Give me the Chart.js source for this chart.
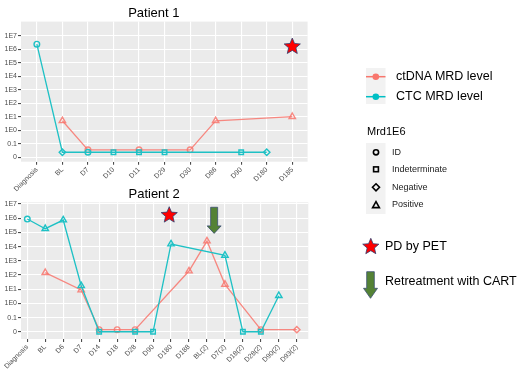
<!DOCTYPE html>
<html>
<head>
<meta charset="utf-8">
<title>MRD levels</title>
<script src="https://cdn.jsdelivr.net/npm/chart.js@4.4.1/dist/chart.umd.min.js"></script>
<style>
  body { margin: 0; background: #fff; font-family: 'Liberation Sans', Arial, sans-serif; }
  #page { position: relative; width: 520px; height: 388px; overflow: hidden; }
  canvas { position: absolute; }
  #chart1 { left: 0; top: 0; }
  #chart2 { left: 0; top: 183px; }
  #keys { left: 340px; top: 0; }
  .lbl { position: absolute; white-space: nowrap; color: #000; }
  .big { font-size: 12.5px; line-height: 15px; }
  .mid { font-size: 11px; line-height: 13px; }
  .small { font-size: 9px; line-height: 11px; color: #222; }
</style>
</head>
<body>
<div id="page">
  <canvas id="chart1" width="320" height="196"></canvas>
  <canvas id="chart2" width="320" height="205"></canvas>
  <canvas id="keys" width="180" height="388"></canvas>
  <span class="lbl big" style="left:396px; top:69px;">ctDNA MRD level</span>
  <span class="lbl big" style="left:396px; top:89px;">CTC MRD level</span>
  <span class="lbl mid" style="left:367px; top:125px;">Mrd1E6</span>
  <span class="lbl small" style="left:392px; top:147px;">ID</span>
  <span class="lbl small" style="left:392px; top:164px;">Indeterminate</span>
  <span class="lbl small" style="left:392px; top:182px;">Negative</span>
  <span class="lbl small" style="left:392px; top:199px;">Positive</span>
  <span class="lbl big" style="left:385px; top:239px;">PD by PET</span>
  <span class="lbl big" style="left:385px; top:274px;">Retreatment with CART</span>
</div>
<script>
// y axis is in tick steps: 0 = "0", 1 = "0.1", 2 = "1E0" ... 9 = "1E7"
const yTickLabels = ['0', '0.1', '1E0', '1E1', '1E2', '1E3', '1E4', '1E5', '1E6', '1E7'];

// Patient 1
const p1Days = ['Diagnosis', 'BL', 'D7', 'D10', 'D11', 'D29', 'D30', 'D86', 'D90', 'D180', 'D185'];
const p1Ctdna = [null, 2.7, 0.55, null, 0.55, null, 0.55, 2.7, null, null, 3.0];
const p1CtdnaMrd = [null, 'Positive', 'ID', null, 'ID', null, 'ID', 'Positive', null, null, 'Positive'];
const p1Ctc = [8.37, 0.37, 0.37, 0.37, 0.37, 0.37, null, null, 0.37, 0.37, null];
const p1CtcMrd = ['ID', 'Negative', 'ID', 'Indeterminate', 'Indeterminate', 'Indeterminate', null, null, 'Indeterminate', 'Negative', null];

// Patient 2
const p2Days = ['Diagnosis', 'BL', 'D6', 'D7', 'D14', 'D18', 'D28', 'D90', 'D180', 'D188', 'BL(2)', 'D7(2)', 'D18(2)', 'D28(2)', 'D90(2)', 'D93(2)'];
const p2Ctdna = [null, 4.16, null, 2.94, 0.15, 0.15, 0.15, null, null, 4.28, 6.39, 3.34, null, 0.15, null, 0.15];
const p2CtdnaMrd = [null, 'Positive', null, 'Positive', 'ID', 'ID', 'ID', null, null, 'Positive', 'Positive', 'Positive', null, 'ID', null, 'Negative'];
const p2Ctc = [7.94, 7.26, 7.87, 3.24, 0, null, 0, 0, 6.18, null, null, 5.38, 0, 0, 2.54, null];
const p2CtcMrd = ['ID', 'Positive', 'Positive', 'Positive', 'Indeterminate', null, 'Indeterminate', 'Indeterminate', 'Positive', null, null, 'Positive', 'Indeterminate', 'Indeterminate', 'Positive', null];

// PD by PET stars and CART arrow: [day index, axis value]
const p1Stars = [[10, 8.19]];
const p2Stars = [[7.9, 8.21]];
const p2Arrows = [[10.4, 8.77, 6.93]];

const red = 'rgba(248, 118, 109, 0.85)';
const cyan = '#1EC1C5';
const shapeStyle = { ID: 'circle', Indeterminate: 'rect', Negative: 'rectRot', Positive: 'triangle' };
const shapeRadius = { ID: 2.8, Indeterminate: 3.2, Negative: 3.2, Positive: 3.7 };

Chart.defaults.font.family = "'Liberation Sans', Arial, sans-serif";

function starPath(ctx, cx, cy, R, r) {
    ctx.beginPath();
    for (let i = 0; i < 10; i++) {
        const rad = i % 2 === 0 ? R : r;
        const a = -Math.PI / 2 + i * Math.PI / 5;
        const px = cx + Math.cos(a) * rad;
        const py = cy + Math.sin(a) * rad;
        if (i === 0) ctx.moveTo(px, py); else ctx.lineTo(px, py);
    }
    ctx.closePath();
}

function drawStar(ctx, cx, cy, R) {
    ctx.save();
    starPath(ctx, cx, cy, R, R * 0.45);
    ctx.fillStyle = '#FF0000';
    ctx.fill();
    ctx.strokeStyle = '#2F3E6E';
    ctx.lineWidth = 0.8;
    ctx.stroke();
    ctx.restore();
}

function drawArrow(ctx, cx, top, tip, shaftW, headW, headLen) {
    ctx.save();
    ctx.beginPath();
    ctx.moveTo(cx - shaftW / 2, top);
    ctx.lineTo(cx + shaftW / 2, top);
    ctx.lineTo(cx + shaftW / 2, tip - headLen);
    ctx.lineTo(cx + headW / 2, tip - headLen);
    ctx.lineTo(cx, tip);
    ctx.lineTo(cx - headW / 2, tip - headLen);
    ctx.lineTo(cx - shaftW / 2, tip - headLen);
    ctx.closePath();
    ctx.fillStyle = '#548235';
    ctx.fill();
    ctx.strokeStyle = '#3B4F73';
    ctx.lineWidth = 0.8;
    ctx.stroke();
    ctx.restore();
}

// ggplot style grey panel
const panelBg = {
    id: 'panelBg',
    beforeDraw(chart) {
        const a = chart.chartArea;
        const ctx = chart.ctx;
        ctx.save();
        ctx.fillStyle = '#EBEBEB';
        ctx.fillRect(a.left, a.top, a.right - a.left, a.bottom - a.top);
        ctx.restore();
    }
};

// stars / arrows placed on the data scales
const marks = {
    id: 'marks',
    afterDatasetsDraw(chart, args, opts) {
        const x = chart.scales.x, y = chart.scales.y;
        (opts.stars || []).forEach(s => drawStar(chart.ctx, x.getPixelForValue(s[0]), y.getPixelForValue(s[1]), 8.5));
        (opts.arrows || []).forEach(a => drawArrow(chart.ctx, x.getPixelForValue(a[0]), y.getPixelForValue(a[1]), y.getPixelForValue(a[2]), 7, 14, 7.5));
    }
};

function toPoints(values, mrd) {
    return values.map((v, i) => v === null ? null : { x: i, y: v, mrd: mrd[i] }).filter(p => p);
}

function series(label, values, mrd, color, order) {
    return {
        label: label,
        data: toPoints(values, mrd),
        borderColor: color,
        borderWidth: 1.3,
        tension: 0,
        order: order,
        clip: false,
        pointStyle: c => c.raw ? shapeStyle[c.raw.mrd] : 'circle',
        pointRadius: c => c.raw ? shapeRadius[c.raw.mrd] : 3,
        pointBorderColor: color,
        pointBackgroundColor: 'rgba(0,0,0,0)',
        pointBorderWidth: 1.4
    };
}

function makeChart(id, title, days, ctdna, ctdnaMrd, ctc, ctcMrd, cfg) {
    const yTicks = [];
    for (let v = 0; v <= cfg.yMax; v += 0.5) yTicks.push(v);
    return new Chart(document.getElementById(id), {
        type: 'line',
        data: {
            datasets: [
                series('ctDNA MRD level', ctdna, ctdnaMrd, red, 1),
                series('CTC MRD level', ctc, ctcMrd, cyan, 0)
            ]
        },
        options: {
            responsive: false,
            animation: false,
            events: [],
            layout: { padding: { left: 0, right: cfg.padRight, top: 0, bottom: 0 } },
            plugins: {
                legend: { display: false },
                tooltip: { enabled: false },
                title: {
                    display: true,
                    text: title,
                    color: '#000',
                    font: { size: 13, weight: 'normal' },
                    padding: cfg.titlePad
                },
                marks: { stars: cfg.stars, arrows: cfg.arrows }
            },
            scales: {
                x: {
                    type: 'linear',
                    min: cfg.xMin,
                    max: cfg.xMax,
                    border: { display: false },
                    afterBuildTicks: axis => { axis.ticks = days.map((d, i) => ({ value: i })); },
                    afterFit: axis => { axis.height = cfg.xAxisHeight; axis.paddingLeft = 0; axis.paddingRight = 0; },
                    grid: { color: '#FFFFFF', lineWidth: 1.1, tickLength: 3, tickColor: '#4D4D4D' },
                    ticks: {
                        autoSkip: false,
                        minRotation: 45,
                        maxRotation: 45,
                        padding: 1,
                        color: '#4D4D4D',
                        font: { size: 7 },
                        callback: v => days[v]
                    }
                },
                y: {
                    type: 'linear',
                    min: cfg.yMin,
                    max: cfg.yMax,
                    border: { display: false },
                    afterBuildTicks: axis => { axis.ticks = yTicks.map(v => ({ value: v })); },
                    afterFit: axis => { axis.width = 21; axis.paddingTop = 0; axis.paddingBottom = 0; },
                    grid: {
                        color: c => Number.isInteger(c.tick.value) ? '#FFFFFF' : 'rgba(255,255,255,0.7)',
                        lineWidth: c => Number.isInteger(c.tick.value) ? 1.1 : 0.6,
                        tickLength: 3,
                        tickColor: c => Number.isInteger(c.tick.value) ? '#4D4D4D' : 'rgba(0,0,0,0)'
                    },
                    ticks: {
                        padding: 1,
                        color: '#4D4D4D',
                        font: { size: 7 },
                        callback: v => Number.isInteger(v) ? yTickLabels[v] : ''
                    }
                }
            }
        },
        plugins: [panelBg, marks]
    });
}

makeChart('chart1', 'Patient 1', p1Days, p1Ctdna, p1CtdnaMrd, p1Ctc, p1CtcMrd, {
    xMin: -0.62, xMax: 10.6, yMin: -0.33, yMax: 10.04,
    padRight: 12.4, xAxisHeight: 34.3, titlePad: { top: 5.5, bottom: 0.5 },
    stars: p1Stars, arrows: []
});

makeChart('chart2', 'Patient 2', p2Days, p2Ctdna, p2CtdnaMrd, p2Ctc, p2CtcMrd, {
    xMin: -0.35, xMax: 15.64, yMin: -0.51, yMax: 9.12,
    padRight: 11.7, xAxisHeight: 49, titlePad: { top: 3.5, bottom: 0.2 },
    stars: p2Stars, arrows: p2Arrows
});

// right hand legend symbols
function drawKeys() {
    const ctx = document.getElementById('keys').getContext('2d');
    ctx.translate(-340, 0);

    // line keys
    ctx.fillStyle = '#F2F2F2';
    ctx.fillRect(366, 68, 19.5, 36);
    [[76.7, '#F8766D'], [96.7, '#00BFC4']].forEach(k => {
        ctx.strokeStyle = k[1];
        ctx.lineWidth = 1.5;
        ctx.beginPath();
        ctx.moveTo(366, k[0]);
        ctx.lineTo(385.5, k[0]);
        ctx.stroke();
        ctx.fillStyle = k[1];
        ctx.beginPath();
        ctx.arc(375.8, k[0], 3.3, 0, Math.PI * 2);
        ctx.fill();
    });

    // shape keys
    ctx.fillStyle = '#F2F2F2';
    ctx.fillRect(366, 143, 19.5, 71);
    ctx.strokeStyle = '#000';
    ctx.lineWidth = 1.6;
    ctx.beginPath();
    ctx.arc(376, 152.3, 2.6, 0, Math.PI * 2);
    ctx.stroke();
    ctx.strokeRect(373.6, 166.9, 4.8, 4.8);
    ctx.beginPath();
    ctx.moveTo(376, 183.8); ctx.lineTo(379.5, 187.3); ctx.lineTo(376, 190.8); ctx.lineTo(372.5, 187.3);
    ctx.closePath();
    ctx.stroke();
    ctx.beginPath();
    ctx.moveTo(376, 201.6); ctx.lineTo(379.4, 207.6); ctx.lineTo(372.6, 207.6);
    ctx.closePath();
    ctx.stroke();

    drawStar(ctx, 370.8, 246.8, 8.5);
    drawArrow(ctx, 370.5, 271.7, 298.3, 7.6, 14, 10);
}
drawKeys();
</script>
</body>
</html>
